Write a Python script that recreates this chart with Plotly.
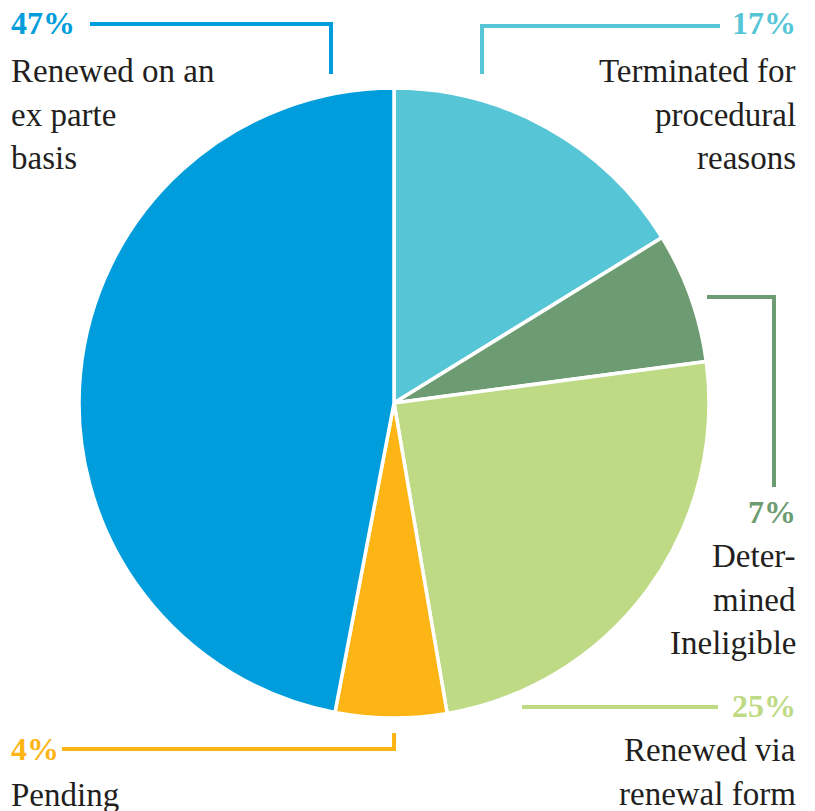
import plotly.graph_objects as go

W, H = 815, 811

categories = ["Terminated for procedural reasons", "Determined Ineligible",
              "Renewed via renewal form", "Pending", "Renewed on an ex parte basis"]
slice_values = [16.2, 6.7, 24.4, 5.7, 47.0]
pct_labels = ["17%", "7%", "25%", "4%", "47%"]
label_lines = [["Terminated for", "procedural", "reasons"],
               ["Deter-", "mined", "Ineligible"],
               ["Renewed via", "renewal form"],
               ["Pending"],
               ["Renewed on an", "ex parte", "basis"]]
colors = ["#56C5D6", "#6E9C72", "#BFDA84", "#FDB515", "#009DDC"]

FONT = "Liberation Serif"
TXT = "#231F20"

def px(x):
    return x / W

def py(y):
    return 1 - y / H

cx, cy, r = 394, 403, 315

fig = go.Figure(go.Pie(
    labels=categories, values=slice_values, sort=False, direction="clockwise",
    rotation=0, textinfo="none", hoverinfo="label+value",
    marker=dict(colors=colors, line=dict(color="white", width=3.5)),
    domain=dict(x=[px(cx - r), px(cx + r)], y=[py(cy + r), py(cy - r)]),
    showlegend=False,
))

# label layout: (pct x, pct cap-centre y, align, first text baseline)
layout_spec = [
    (798, 23, "right", 81),
    (798, 512, "right", 566),
    (798, 706, "right", 760),
    (9, 749, "left", 805),
    (9, 23, "left", 81),
]
LINE_GAP = 43.5

annotations = []
for i, (x, yc, al, b0) in enumerate(layout_spec):
    xanchor = "right" if al == "right" else "left"
    annotations.append(dict(
        x=px(x), y=py(yc), xref="paper", yref="paper", xanchor=xanchor, yanchor="middle",
        text="<b>%s</b>" % pct_labels[i], showarrow=False,
        font=dict(family=FONT, size=32, color=colors[i])))
    for j, line in enumerate(label_lines[i]):
        annotations.append(dict(
            x=px(x), y=py(b0 + j * LINE_GAP - 10), xref="paper", yref="paper",
            xanchor=xanchor, yanchor="middle", text=line, showarrow=False,
            font=dict(family=FONT, size=33, color=TXT)))

# leader lines (paper coordinates)
leaders = [
    (colors[0], [(480, 26), (720, 26)], [(482, 24), (482, 74)]),
    (colors[1], [(707, 297), (776, 297)], [(774, 295), (774, 487)]),
    (colors[2], [(522, 707), (718, 707)], None),
    (colors[3], [(62, 749), (396, 749)], [(394, 733), (394, 751)]),
    (colors[4], [(90, 24), (333, 24)], [(331, 22), (331, 74)]),
]
shapes = []
for col, h, v in leaders:
    for seg in (h, v):
        if seg is None:
            continue
        (x0, y0), (x1, y1) = seg
        shapes.append(dict(type="line", xref="paper", yref="paper",
                           x0=px(x0), y0=py(y0), x1=px(x1), y1=py(y1),
                           line=dict(color=col, width=4)))

fig.update_layout(
    width=W, height=H, margin=dict(l=0, r=0, t=0, b=0),
    paper_bgcolor="white", plot_bgcolor="white",
    annotations=annotations, shapes=shapes,
)

fig.write_html("out.html")
